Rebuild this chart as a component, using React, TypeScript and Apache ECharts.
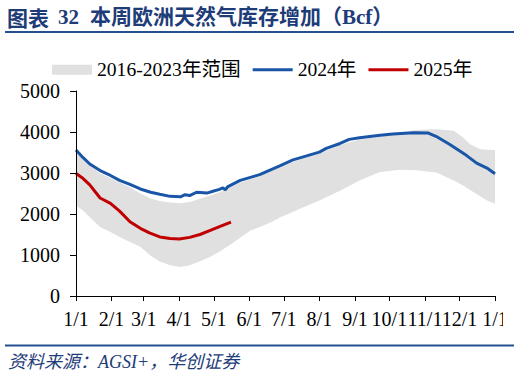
import React, { useEffect, useRef } from "react";
import * as echarts from "echarts";

// x positions are day-of-year (0 = 1/1)
const monthStartDays = [0, 31, 59, 90, 120, 151, 181, 212, 243, 273, 304, 334, 365];
const tickLabels = ["1/1", "2/1", "3/1", "4/1", "5/1", "6/1", "7/1", "8/1", "9/1", "10/1", "11/1", "12/1", "1/1"];

// 2016-2023 range (min / max), Bcf
const bandDays = [0, 6, 12, 21, 30, 38, 47, 56, 65, 73, 82, 91, 99, 108, 117, 125, 135, 143, 152, 160, 170, 178, 186, 195, 212, 230, 247, 264, 282, 296, 314, 329, 337, 343, 352, 358, 365];
const bandMin = [2200, 2090, 1920, 1680, 1560, 1440, 1320, 1200, 980, 840, 750, 710, 750, 850, 960, 1080, 1260, 1420, 1600, 1680, 1800, 1920, 2010, 2130, 2330, 2570, 2820, 3020, 3080, 3070, 3010, 2820, 2700, 2590, 2430, 2330, 2250];
const bandMax = [3520, 3340, 3180, 2990, 2880, 2770, 2650, 2500, 2380, 2320, 2280, 2260, 2290, 2370, 2450, 2530, 2650, 2770, 2850, 2920, 3040, 3140, 3230, 3330, 3470, 3680, 3820, 3880, 3990, 4050, 4070, 4030, 3870, 3710, 3580, 3565, 3560];

// 2024
const days2024 = [0, 6, 12, 21, 30, 38, 47, 56, 65, 73, 82, 91, 95, 99, 105, 114, 120, 125, 128, 130, 132, 143, 160, 178, 189, 195, 212, 218, 230, 238, 247, 265, 276, 294, 307, 314, 326, 340, 349, 358, 365];
const values2024 = [3560, 3380, 3220, 3060, 2940, 2820, 2720, 2610, 2530, 2480, 2430, 2420, 2470, 2450, 2530, 2510, 2560, 2600, 2640, 2590, 2660, 2820, 2960, 3180, 3320, 3370, 3510, 3600, 3720, 3820, 3860, 3920, 3950, 3980, 3975, 3890, 3690, 3430, 3240, 3120, 2980];

// 2025
const days2025 = [0, 6, 12, 21, 30, 38, 47, 56, 64, 73, 82, 90, 99, 108, 117, 125, 135];
const values2025 = [2990, 2870, 2710, 2390, 2260, 2070, 1810, 1650, 1540, 1440, 1400, 1390, 1430, 1500, 1600, 1690, 1800];

const seriesNames = ["2016-2023年范围", "2024年", "2025年"];
const titleParts = ["图表", "32", "本周欧洲天然气库存增加（Bcf）"];
const sourceText = "资料来源：AGSI+，华创证券";

const SERIF = "'Liberation Serif', 'Times New Roman', 'Noto Sans CJK SC', serif";
const BAND = "#e0e0e0";
const BLUE = "#1a56a8";
const RED = "#c00000";
const NAVY = "#1d3c78";

export default function App() {
  const ref = useRef<HTMLDivElement>(null);
  useEffect(() => {
    if (!ref.current) return;
    const chart = echarts.init(ref.current, undefined, { renderer: "svg" });
    chart.setOption({
      animation: false,
      backgroundColor: "#fff",
      grid: { left: 76, right: 24, top: 91, bottom: 81 },
      legend: {
        top: 60,
        left: 52,
        padding: 0,
        itemGap: 12,
        itemWidth: 40,
        itemHeight: 10,
        textStyle: { fontFamily: SERIF, fontSize: 19.6, color: "#000" },
        data: [
          { name: seriesNames[0], icon: "rect", itemStyle: { color: BAND } },
          { name: seriesNames[1], icon: "path://M0,0L40,0L40,3L0,3Z", itemStyle: { color: BLUE } },
          { name: seriesNames[2], icon: "path://M0,0L40,0L40,3L0,3Z", itemStyle: { color: RED } },
        ],
      },
      xAxis: {
        type: "value",
        min: 0,
        max: 365,
        z: 10,
        splitLine: { show: false },
        axisLine: { show: true, onZero: false, lineStyle: { color: "#000", width: 1 } },
        axisTick: { show: true, inside: false, length: 5, customValues: monthStartDays, lineStyle: { color: "#000" } },
        axisLabel: {
          customValues: monthStartDays,
          margin: 13,
          fontFamily: SERIF,
          fontSize: 20,
          color: "#000",
          formatter: (v: number) => {
            const i = monthStartDays.indexOf(v);
            return i >= 0 ? tickLabels[i] : "";
          },
        },
      },
      yAxis: {
        type: "value",
        min: 0,
        max: 5000,
        interval: 1000,
        z: 10,
        splitLine: { show: false },
        axisLine: { show: true, lineStyle: { color: "#000", width: 1 } },
        axisTick: { show: true, inside: false, length: 6, lineStyle: { color: "#000" } },
        axisLabel: { margin: 16, fontFamily: SERIF, fontSize: 20, color: "#000", formatter: (v: number) => String(v) },
      },
      series: [
        {
          name: seriesNames[0],
          type: "line",
          data: bandDays.map((d, i) => [d, bandMax[i]]),
          symbol: "none",
          color: BAND,
          lineStyle: { width: 0, opacity: 0 },
          areaStyle: { color: BAND, opacity: 1 },
          silent: true,
          z: 1,
        },
        {
          name: "range-min",
          type: "line",
          data: bandDays.map((d, i) => [d, bandMin[i]]),
          symbol: "none",
          color: "#fff",
          lineStyle: { width: 0, opacity: 0 },
          areaStyle: { color: "#fff", opacity: 1 },
          silent: true,
          z: 2,
        },
        {
          name: seriesNames[1],
          type: "line",
          data: days2024.map((d, i) => [d, values2024[i]]),
          symbol: "none",
          color: BLUE,
          lineStyle: { width: 3, color: BLUE },
          z: 4,
        },
        {
          name: seriesNames[2],
          type: "line",
          data: days2025.map((d, i) => [d, values2025[i]]),
          symbol: "none",
          color: RED,
          lineStyle: { width: 3, color: RED },
          z: 5,
        },
      ],
      graphic: [
        {
          type: "text",
          x: 7,
          y: 17,
          style: { text: titleParts[0], fontFamily: "'Noto Sans CJK SC', sans-serif", fontWeight: "bold", fontSize: 21, fill: NAVY, verticalAlign: "middle" },
        },
        {
          type: "text",
          x: 58,
          y: 17,
          style: { text: titleParts[1], fontFamily: SERIF, fontWeight: "bold", fontSize: 21, fill: NAVY, verticalAlign: "middle" },
        },
        {
          type: "text",
          x: 90,
          y: 17,
          style: { text: titleParts[2], fontFamily: "'Liberation Serif', 'Noto Sans CJK SC', serif", fontWeight: "bold", fontSize: 21, fill: NAVY, verticalAlign: "middle" },
        },
        {
          type: "line",
          shape: { x1: 5, y1: 32, x2: 514, y2: 32 },
          style: { stroke: "#24508f", lineWidth: 2 },
        },
        {
          type: "line",
          shape: { x1: 5, y1: 345.5, x2: 514, y2: 345.5 },
          style: { stroke: "#24508f", lineWidth: 2 },
        },
        {
          type: "text",
          x: 8,
          y: 362,
          style: { text: sourceText, fontFamily: "'Liberation Serif', 'Noto Sans CJK SC', serif", fontStyle: "italic", fontSize: 18, fill: NAVY, verticalAlign: "middle" },
        },
        {
          type: "rect",
          z: 100,
          shape: { x: 503, y: 302, width: 16, height: 34 },
          style: { fill: "#fff" },
        },
      ],
    });
    return () => chart.dispose();
  }, []);
  return <div ref={ref} style={{ position: "fixed", left: 0, top: 0, width: 519, height: 377 }} />;
}
